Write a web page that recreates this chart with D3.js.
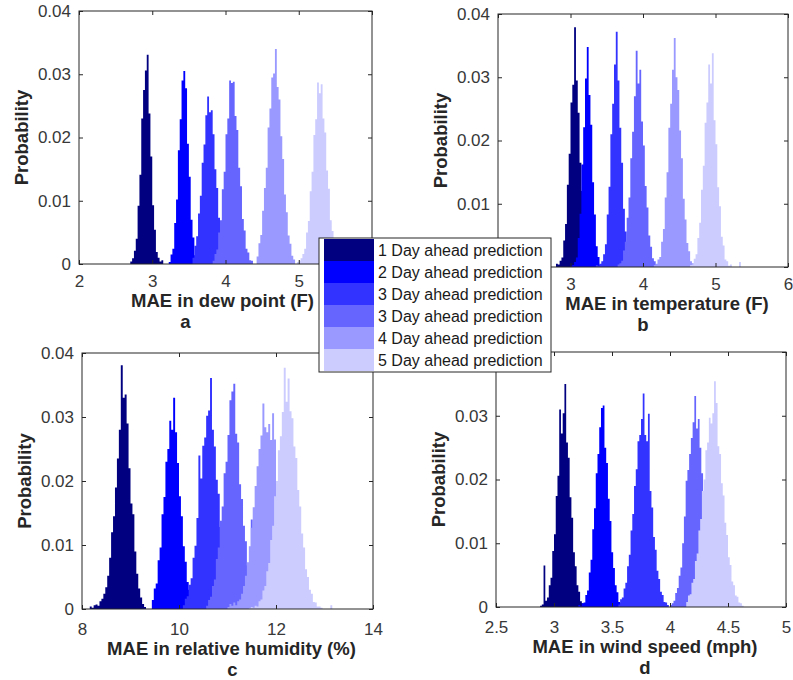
<!DOCTYPE html>
<html>
<head>
<meta charset="utf-8">
<script src="https://cdn.jsdelivr.net/npm/d3@7"></script>
<style>
body{margin:0;background:#fff;}
text{font-family:Arial,"Liberation Sans",sans-serif;}
</style>
</head>
<body>
<div id="chart"></div>
<script>
var w = 793;
var h = 680;

// legend + colours (dark -> light)
var legendLabels = ["1 Day ahead prediction","2 Day ahead prediction","3 Day ahead prediction",
	"3 Day ahead prediction","4 Day ahead prediction","5 Day ahead prediction"];
var seriesColors = ["#000080","#0000ff","#3333ff","#6666ff","#9999ff","#ccccff"];

var yTickValues = [0, 0.01, 0.02, 0.03, 0.04];
var yTickLabels = ["0","0.01","0.02","0.03","0.04"];

// histograms: left edge of first bin, bin width, bar heights in probability x 1000
var dewTicks = [2,3,4,5,6];
var dewBinWidth = 0.025;
var dewStarts = [2.700, 3.225, 3.550, 3.825, 4.425, 4.975];
var dewPermille = [
	[0.4,0.9,2.1,4.0,9.2,14.1,23.0,27.5,30.6,33.1,23.8,17.0,9.3,5.4,1.9,1.0,0.4,0.6],
	[0.3,1.5,2.4,6.5,10.2,18.0,22.9,29.0,30.5,27.8,19.0,13.8,7.0,4.2,1.4,0.8,0.3],
	[1.0,2.9,4.4,8.0,10.8,16.0,18.9,23.5,26.5,24.0,24.3,20.5,15.0,12.0,7.3,5.2,2.5,1.7,0.6],
	[0.5,1.6,2.3,5.0,6.9,11.8,14.6,20.5,23.0,29.0,28.6,28.8,23.4,21.2,15.2,12.3,7.1,5.3,2.4,1.8,0.6,0.5],
	[1.2,3.3,4.6,8.4,12.0,15.2,21.6,24.6,29.5,30.1,34.0,28.0,26.0,20.2,16.6,11.0,8.2,4.5,3.2,1.3,0.7],
	[0.3,0.5,0.9,1.6,2.4,5.0,6.8,11.5,14.6,20.4,22.9,28.7,27.0,28.4,23.0,20.8,14.8,11.9,6.9,5.2,2.3,1.8,0.5,0.4]
];

var tempTicks = [2,3,4,5,6];
var tempBinWidth = 0.025;
var tempStarts = [2.800, 3.000, 3.350, 3.650, 4.150, 4.650];
var tempPermille = [
	[0.5,0.4,1.0,1.5,4.2,6.8,13.0,17.9,26.0,28.8,37.9,29.5,24.4,16.5,12.0,6.0,3.6,1.2,0.7,0.3],
	[0.2,0.3,0.8,1.5,4.6,8.4,16.2,22.1,29.8,34.8,27.2,22.5,13.4,8.3,3.3,1.6,0.4,0.3],
	[0.3,0.2,0.5,0.9,2.0,3.6,8.3,12.7,21.0,25.8,32.0,37.2,29.5,22.0,16.5,9.2,5.6,2.3,1.3,0.5,0.3],
	[0.4,0.6,1.0,2.6,4.0,7.8,11.0,17.2,21.4,27.0,34.2,29.0,31.2,23.0,19.2,12.8,9.4,5.0,3.2,1.4,0.9,0.4],
	[0.3,0.5,1.2,1.6,4.0,6.0,11.0,15.0,22.0,25.8,31.2,36.2,30.0,28.0,21.6,17.2,10.8,7.5,3.8,2.5,0.9,0.6,0.3],
	[0.3,0.4,1.3,2.0,4.6,7.0,12.2,16.0,22.8,26.0,32.0,29.0,33.8,23.2,19.4,12.6,9.6,4.8,3.4,1.2,0.9,0.2,0.4,0,0,0,0,0.8]
];

var rhTicks = [8,10,12,14];
var rhBinWidth = 0.04;
var rhStarts = [8.16, 9.44, 10.08, 10.56, 11.00, 11.40];
var rhPermille = [
	[0.4,0.2,0.6,0.7,0.5,1.2,1.6,2.4,3.4,5.2,8.0,12.0,14.5,19.0,23.5,28.0,38.1,33.0,33.5,29.0,22.0,16.5,14.8,9.0,5.5,3.2,1.8,0.8,0.3],
	[1.4,3.2,4.0,7.6,9.6,14.8,17.5,23.0,25.0,29.4,28.0,33.0,27.6,22.8,17.6,14.5,9.8,7.4,4.2,3.0,1.4,1.0,0.5],
	[0.6,1.6,2.0,3.8,4.8,8.0,9.9,14.2,24.0,20.4,25.5,26.8,30.2,31.0,36.1,28.0,25.4,20.2,18.0,12.8,11.0,6.8,5.4,3.0,2.4,1.1,0.9,0.3,0.2],
	[0.5,1.4,1.9,3.6,4.6,7.8,9.6,13.8,16.0,21.2,23.0,27.2,32.6,34.0,35.2,27.4,26.0,19.5,17.2,13.0,10.6,6.8,5.4,14.0,2.0,1.4,0.5,0.4,0.2],
	[0.3,0.8,0.5,1.0,0.6,1.2,1.5,2.4,3.6,5.2,7.3,9.8,12.7,15.9,19.2,22.3,25.0,27.1,32.1,28.4,27.6,28.9,26.4,30.6,26.5,20.0,13.9,10.8,8.2,6.0,4.2,2.8,1.9,1.2,0.7],
	[0,0.1,0.3,0.2,0.5,0.4,1.2,1.5,2.9,3.6,5.9,7.2,10.8,13.0,17.6,20.0,24.8,27.0,30.8,37.7,32.4,36.0,30.9,29.8,25.4,23.6,18.6,16.0,11.8,9.6,6.2,5.0,3.0,2.4,1.1,1.0,0.4,0.4,0.2,0,0,0,0,0.6]
];

var windTicks = [2.5,3,3.5,4,4.5,5];
var windBinWidth = 0.015;
var windStarts = [2.880, 3.210, 3.555, 4.000, 4.220, 4.140];
var windPermille = [
	[0.2,0.4,6.5,1.0,1.5,3.4,4.6,8.8,11.4,17.4,20.6,31.0,27.2,30.4,35.0,25.8,23.4,17.2,14.0,8.6,6.4,3.4,2.4,0.9,0.6,0.2],
	[0.3,0.1,0.6,0.7,1.9,2.6,5.4,7.4,12.2,15.5,21.0,24.0,28.2,31.2,31.6,25.0,22.6,17.0,13.5,8.6,6.1,3.4,2.3,0.8,0.6,0.3],
	[0.4,1.2,1.5,2.9,3.8,6.4,8.2,12.0,14.6,19.0,21.6,26.0,27.0,29.5,33.5,27.0,26.0,30.3,18.2,15.6,11.0,9.0,5.7,4.4,2.4,1.9,0.8,0.7,0.3],
	[0.3,0.6,1.0,2.2,3.0,4.9,6.2,10.0,14.2,19.8,21.5,24.0,26.5,29.0,33.1,28.0,29.5,25.0,21.0,17.5,12.8,10.0,6.5,4.8,2.6,1.9,0.9,0.7,0.3],
	[0.8,1.4,2.5,4.2,6.5,9.4,12.8,16.4,19.8,22.4,23.8,23.8,22.3,19.7,16.3,12.7,9.3,6.4,4.1,2.5],
	[0.8,1.8,2.0,3.8,4.4,7.2,8.4,12.0,13.8,18.2,20.0,24.6,25.8,29.7,28.8,30.4,35.4,32.0,25.2,24.0,19.4,17.5,13.2,11.3,7.8,6.6,4.0,3.4,1.8,1.6,0.7,0.6,0.2]
];

// hideX / hideY: tick labels that sit under the legend box
var panels = [
	{letter:"a", box:[79,11,293,253], xDomain:[2,6], ticks:dewTicks, label:"MAE in dew point (F)",
		bw:dewBinWidth, starts:dewStarts, heights:dewPermille, gap:0, labelShift:-3, letterShift:-40,
		hideX:[6], hideY:[]},
	{letter:"b", box:[498,14,290,253], xDomain:[2,6], ticks:tempTicks, label:"MAE in temperature (F)",
		bw:tempBinWidth, starts:tempStarts, heights:tempPermille, gap:0, labelShift:24, letterShift:0,
		hideX:[2], hideY:[0]},
	{letter:"c", box:[82,353,291,256], xDomain:[8,14], ticks:rhTicks, label:"MAE in relative humidity (%)",
		bw:rhBinWidth, starts:rhStarts, heights:rhPermille, gap:3, labelShift:4, letterShift:5,
		hideX:[], hideY:[]},
	{letter:"d", box:[496,352,290,255], xDomain:[2.5,5], ticks:windTicks, label:"MAE in wind speed (mph)",
		bw:windBinWidth, starts:windStarts, heights:windPermille, gap:3, labelShift:4, letterShift:4,
		hideX:[], hideY:[0.04]}
];

var svg = d3.select("#chart")
	.append("svg")
	.attr("width", w)
	.attr("height", h)
	.style("background", "#fff");

panels.forEach(function(p){
	var left = p.box[0], top = p.box[1], bw = p.box[2], bh = p.box[3];
	var xscale = d3.scaleLinear().domain(p.xDomain).range([left, left+bw]);
	var yscale = d3.scaleLinear().domain([0,0.04]).range([top+bh, top]);

	var area = d3.area()
		.curve(d3.curveStepAfter)
		.x(function(d){return xscale(d.x)})
		.y0(yscale(0))
		.y1(function(d){return yscale(d.v/1000)});

	var g = svg.append("g");

	// one step-shaped path per histogram; later series painted over earlier ones
	p.heights.forEach(function(series, s){
		var pts = series.map(function(v,i){return {x:p.starts[s]+i*p.bw, v:v}});
		pts.push({x:p.starts[s]+series.length*p.bw, v:series[series.length-1]});
		g.append("path")
			.datum(pts)
			.attr("d", area)
			.style("fill", seriesColors[s])
			.style("stroke", "none");
	});

	// axes (ticks point inward, matlab style)
	var xAxis = d3.axisBottom(xscale).tickValues(p.ticks).tickSize(-4).tickSizeOuter(0)
		.tickPadding(11+p.gap).tickFormat(function(d){return String(d)});
	var xTop = d3.axisTop(xscale).tickValues(p.ticks).tickSize(-4).tickSizeOuter(0).tickFormat("");
	var yAxis = d3.axisLeft(yscale).tickValues(yTickValues).tickSize(-4).tickSizeOuter(0)
		.tickPadding(8).tickFormat(function(d,i){return yTickLabels[i]});
	var yRight = d3.axisRight(yscale).tickValues(yTickValues).tickSize(-4).tickSizeOuter(0).tickFormat("");

	var bottomG = g.append("g").attr("transform","translate(0,"+(top+bh)+")").call(xAxis);
	var leftG = g.append("g").attr("transform","translate("+left+",0)").call(yAxis);
	var axes = [
		bottomG,
		g.append("g").attr("transform","translate(0,"+top+")").call(xTop),
		leftG,
		g.append("g").attr("transform","translate("+(left+bw)+",0)").call(yRight)
	];
	axes.forEach(function(a){
		a.select(".domain").remove();
		a.selectAll("line").attr("stroke","#262626");
		a.selectAll("text").attr("fill","#383838").style("font-size","17px");
	});
	bottomG.selectAll(".tick").filter(function(d){return p.hideX.indexOf(d) >= 0}).select("text").remove();
	leftG.selectAll(".tick").filter(function(d){return p.hideY.indexOf(d) >= 0}).select("text").remove();

	g.append("rect")
		.attr("x", left).attr("y", top)
		.attr("width", bw).attr("height", bh)
		.style("fill","none").style("stroke","#262626").style("stroke-width",1);

	g.append("text")
		.attr("x", left+bw/2+p.labelShift).attr("y", top+bh+43+p.gap)
		.attr("text-anchor","middle")
		.style("font-size","18.5px").style("font-weight","bold").style("fill","#262626")
		.text(p.label);

	g.append("text")
		.attr("x", left+bw/2+p.letterShift).attr("y", top+bh+64+p.gap)
		.attr("text-anchor","middle")
		.style("font-size","18.5px").style("font-weight","bold").style("fill","#262626")
		.text(p.letter);

	g.append("text")
		.attr("transform","translate("+(left-51)+","+(top+bh/2)+") rotate(-90)")
		.attr("text-anchor","middle")
		.style("font-size","18.5px").style("font-weight","bold").style("fill","#262626")
		.text("Probability");
});

// legend sits on top of everything
var legend = svg.append("g").attr("transform","translate(319,238)");
legend.append("rect")
	.attr("width",232).attr("height",134)
	.style("fill","#fff").style("stroke","#262626").style("stroke-width",1);
legend.selectAll(".sw")
	.data(legendLabels)
	.enter().append("rect")
		.attr("x",5)
		.attr("y",function(d,i){return 1+i*22})
		.attr("width",50).attr("height",22)
		.style("fill",function(d,i){return seriesColors[i]});
legend.selectAll(".lt")
	.data(legendLabels)
	.enter().append("text")
		.attr("x",59)
		.attr("y",function(d,i){return 12+i*22})
		.attr("dy","0.35em")
		.style("font-size","16px").style("fill","#1a1a1a")
		.text(function(d){return d});
</script>
</body>
</html>
